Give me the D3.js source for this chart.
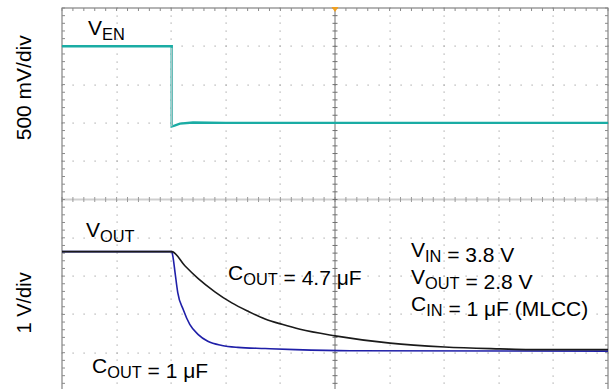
<!DOCTYPE html>
<html>
<head>
<meta charset="utf-8">
<script src="https://cdn.jsdelivr.net/npm/d3@7"></script>
<style>
  html, body { margin: 0; padding: 0; background: #fff; }
  svg { display: block; }
  text { font-family: "Liberation Sans", Arial, Helvetica, sans-serif; fill: #000; }
</style>
</head>
<body>
<svg id="chart" width="610" height="389"></svg>
<script>
// ---- Data (time in divisions, voltages in volts) ----
const venTime  = [0, 2.01, 2.01, 2.06, 2.16, 2.40, 3.00, 10];
const venVolts = [1.00, 1.00, -0.045, -0.035, -0.01, 0.005, 0.0, 0.0];

const cout47Time  = [0, 2.01, 2.25, 2.49, 2.80, 3.11, 3.41, 3.72, 4.03, 4.36, 5.00, 6.01, 7.01, 8.02, 8.57, 10];
const cout47Volts = [2.64, 2.64, 2.27, 1.94, 1.59, 1.30, 1.08, 0.88, 0.74, 0.61, 0.44, 0.25, 0.15, 0.10, 0.08, 0.08];

const cout1Time  = [0, 2.01, 2.03, 2.07, 2.12, 2.22, 2.34, 2.49, 2.67, 2.93, 3.22, 3.72, 4.27, 5.27, 10];
const cout1Volts = [2.64, 2.64, 2.52, 2.10, 1.57, 1.13, 0.74, 0.48, 0.30, 0.19, 0.14, 0.11, 0.08, 0.05, 0.04];

const xDivisions = 10;
const yDivisions = 10;
const minorPerDiv = 5;
const venScale = 0.5;   // V/div
const outScale = 1.0;   // V/div
const yLabels = ["500 mV/div", "1 V/div"];

// ---- Scales ----
const svg = d3.select("#chart");
const x = d3.scaleLinear().domain([0, xDivisions]).range([62, 608]);
const yDiv = d3.scaleLinear().domain([0, yDivisions]).range([8, 391]);
const yEN = d3.scaleLinear().domain([0, venScale]).range([yDiv(3), yDiv(2)]);
const yOUT = d3.scaleLinear().domain([0, outScale]).range([yDiv(9), yDiv(8)]);

// ---- Grid dots ----
const gGrid = svg.append("g");
const minorX = d3.range(0, xDivisions * minorPerDiv + 1).map(i => i / minorPerDiv);
const minorY = d3.range(0, yDivisions * minorPerDiv + 1).map(i => i / minorPerDiv);
const majorX = d3.range(1, xDivisions).filter(d => d !== 5);
const majorY = d3.range(1, yDivisions).filter(d => d !== 5);
const dots = [];
majorX.forEach(mx => minorY.forEach(my => dots.push([mx, my])));
majorY.forEach(my => minorX.forEach(mx => dots.push([mx, my])));
gGrid.selectAll("rect.dot").data(dots).join("rect")
  .attr("class", "dot")
  .attr("x", d => Math.round(x(d[0])) - 0.5)
  .attr("y", d => Math.round(yDiv(d[1])) - 0.5)
  .attr("width", 1.2).attr("height", 1.2)
  .attr("fill", "#a8a8a8");

// center horizontal line (light grey, thick)
gGrid.append("line")
  .attr("x1", x(0)).attr("x2", x(xDivisions))
  .attr("y1", yDiv(5)).attr("y2", yDiv(5))
  .attr("stroke", "#cfcfcf").attr("stroke-width", 2);
gGrid.selectAll("line.hticks").data(minorX).join("line")
  .attr("class", "hticks")
  .attr("x1", d => x(d)).attr("x2", d => x(d))
  .attr("y1", yDiv(5) - 2.5).attr("y2", yDiv(5) + 2.5)
  .attr("stroke", "#9a9a9a").attr("stroke-width", 1);

// center vertical line
gGrid.append("line")
  .attr("x1", x(5)).attr("x2", x(5))
  .attr("y1", yDiv(0)).attr("y2", yDiv(yDivisions))
  .attr("stroke", "#707070").attr("stroke-width", 1);
gGrid.selectAll("line.vticks").data(minorY).join("line")
  .attr("class", "vticks")
  .attr("x1", x(5) - 2.5).attr("x2", x(5) + 2.5)
  .attr("y1", d => yDiv(d)).attr("y2", d => yDiv(d))
  .attr("stroke", "#707070").attr("stroke-width", 1);

// border frame with inward ticks
gGrid.append("rect")
  .attr("x", x(0)).attr("y", yDiv(0))
  .attr("width", x(xDivisions) - x(0)).attr("height", yDiv(yDivisions) - yDiv(0))
  .attr("fill", "none").attr("stroke", "#6a6a6a").attr("stroke-width", 1);
gGrid.selectAll("line.ltick").data(minorY).join("line")
  .attr("x1", x(0)).attr("x2", x(0) + 3)
  .attr("y1", d => yDiv(d)).attr("y2", d => yDiv(d))
  .attr("stroke", "#8a8a8a");
gGrid.selectAll("line.rtick").data(minorY).join("line")
  .attr("x1", x(xDivisions) - 3).attr("x2", x(xDivisions))
  .attr("y1", d => yDiv(d)).attr("y2", d => yDiv(d))
  .attr("stroke", "#8a8a8a");
gGrid.selectAll("line.ttick").data(minorX).join("line")
  .attr("x1", d => x(d)).attr("x2", d => x(d))
  .attr("y1", yDiv(0)).attr("y2", yDiv(0) + 3)
  .attr("stroke", "#8a8a8a");

// trigger marker
gGrid.append("path")
  .attr("d", `M${x(5) - 3.5},${yDiv(0) - 1} L${x(5) + 3.5},${yDiv(0) - 1} L${x(5)},${yDiv(0) + 4} Z`)
  .attr("fill", "#f0a020");

// ---- Traces ----
const venLine = d3.line().x((d, i) => x(venTime[i])).y(d => yEN(d));
svg.append("path")
  .attr("d", venLine(venVolts))
  .attr("fill", "none").attr("stroke", "#1aaca4").attr("stroke-width", 2.4);
// fast falling edge drawn lighter
svg.append("line")
  .attr("x1", x(venTime[1])).attr("x2", x(venTime[2]))
  .attr("y1", yEN(venVolts[1]) + 1.5).attr("y2", yEN(venVolts[2]))
  .attr("stroke", "#a9c9c8").attr("stroke-width", 1.5);

const lineGen = (times) => d3.line()
  .x((d, i) => x(times[i])).y(d => yOUT(d))
  .curve(d3.curveMonotoneX);

svg.append("path")
  .attr("d", lineGen(cout1Time)(cout1Volts))
  .attr("fill", "none").attr("stroke", "#1f1fa8").attr("stroke-width", 1.6);
svg.append("path")
  .attr("d", lineGen(cout47Time)(cout47Volts))
  .attr("fill", "none").attr("stroke", "#1a1a1a").attr("stroke-width", 1.6);

// ---- Text ----
function label(x0, y0, parts, size) {
  const t = svg.append("text").attr("x", x0).attr("y", y0).style("font-size", size + "px");
  parts.forEach(p => {
    if (p.sub) {
      t.append("tspan").attr("dy", 5).style("font-size", (size * 0.78) + "px").text(p.sub);
      t.append("tspan").attr("dy", -5).text("");
    } else {
      t.append("tspan").text(p.t);
    }
  });
  return t;
}
const fs = 21;
label(88, 35, [{t: "V"}, {sub: "EN"}], fs);
label(86, 237, [{t: "V"}, {sub: "OUT"}], fs);
label(228, 280, [{t: "C"}, {sub: "OUT"}, {t: " = 4.7 μF"}], fs);
label(92, 373, [{t: "C"}, {sub: "OUT"}, {t: " = 1 μF"}], fs);
label(411, 257, [{t: "V"}, {sub: "IN"}, {t: " = 3.8 V"}], fs);
label(411, 284, [{t: "V"}, {sub: "OUT"}, {t: " = 2.8 V"}], fs);
label(411, 311, [{t: "C"}, {sub: "IN"}, {t: " = 1 μF (MLCC)"}], fs);

svg.append("text")
  .attr("transform", `translate(31, ${(yDiv(0) + yDiv(5)) / 2 - 16}) rotate(-90)`)
  .attr("text-anchor", "middle")
  .style("font-size", "21px")
  .text(yLabels[0]);
svg.append("text")
  .attr("transform", `translate(31, ${yDiv(7.7)}) rotate(-90)`)
  .attr("text-anchor", "middle")
  .style("font-size", "20px")
  .text(yLabels[1]);
</script>
</body>
</html>
